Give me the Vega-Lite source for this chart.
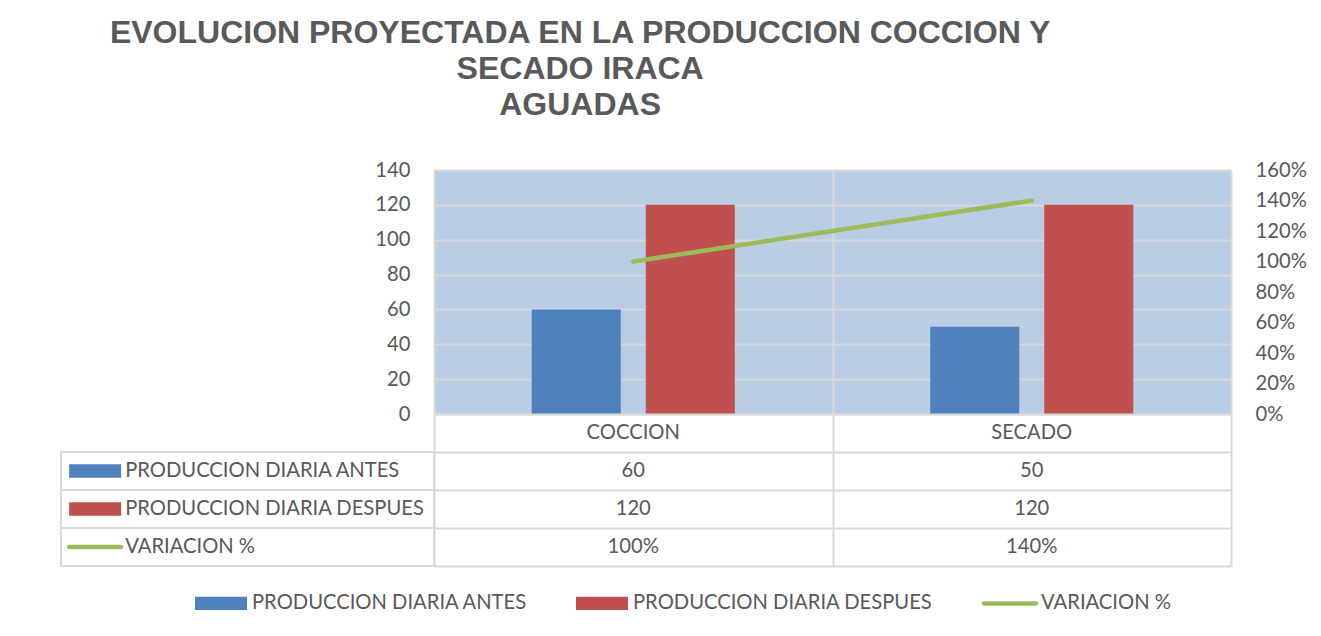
{
  "$schema": "https://vega.github.io/schema/vega-lite/v6.json",
  "padding": {"left": 60, "top": 17, "right": 0, "bottom": 0},
  "background": "white",
  "title": {
    "text": ["EVOLUCION PROYECTADA EN LA PRODUCCION COCCION Y", "SECADO IRACA", "AGUADAS"],
    "font": "Liberation Sans",
    "fontSize": 32,
    "fontWeight": "bold",
    "color": "#595959",
    "anchor": "middle",
    "frame": "bounds",
    "lineHeight": 36,
    "dx": -103,
    "offset": 38
  },
  "datasets": {
    "prod": [
      {"cat": "COCCION", "series": "PRODUCCION DIARIA ANTES", "value": 60},
      {"cat": "COCCION", "series": "PRODUCCION DIARIA DESPUES", "value": 120},
      {"cat": "SECADO", "series": "PRODUCCION DIARIA ANTES", "value": 50},
      {"cat": "SECADO", "series": "PRODUCCION DIARIA DESPUES", "value": 120}
    ],
    "variation": [
      {"cat": "COCCION", "series": "VARIACION %", "variation": 1.0},
      {"cat": "SECADO", "series": "VARIACION %", "variation": 1.4}
    ],
    "seriesList": [
      {"series": "PRODUCCION DIARIA ANTES"},
      {"series": "PRODUCCION DIARIA DESPUES"},
      {"series": "VARIACION %"}
    ]
  },
  "columns": 2,
  "spacing": 0,
  "bounds": "flush",
  "concat": [
    {
      "width": 373,
      "height": 244,
      "data": {"values": [{}]},
      "mark": {"type": "text"},
      "encoding": {"text": {"value": ""}}
    },
    {
      "width": 797,
      "height": 244,
      "view": {"fill": "#B9CDE5", "stroke": null},
      "layer": [
        {
          "data": {"name": "prod"},
          "mark": {"type": "bar"},
          "encoding": {
            "x": {
              "field": "cat", "type": "nominal", "sort": ["COCCION", "SECADO"],
              "scale": {"paddingInner": 0, "paddingOuter": 0},
              "axis": {"title": null, "labels": false, "ticks": false, "domain": false, "grid": true, "tickBand": "extent"}
            },
            "xOffset": {
              "field": "series", "type": "nominal",
              "sort": ["PRODUCCION DIARIA ANTES", "PRODUCCION DIARIA DESPUES"],
              "scale": {"paddingInner": 0.219, "paddingOuter": 0.857}
            },
            "y": {
              "field": "value", "type": "quantitative",
              "scale": {"domain": [0, 140], "nice": false},
              "axis": {"title": null, "orient": "left", "grid": true, "values": [0, 20, 40, 60, 80, 100, 120, 140], "labelPadding": 24}
            },
            "color": {
              "field": "series", "type": "nominal",
              "scale": {"domain": ["PRODUCCION DIARIA ANTES", "PRODUCCION DIARIA DESPUES"], "range": ["#4F81BD", "#C0504D"]},
              "legend": null
            }
          }
        },
        {
          "data": {"name": "variation"},
          "mark": {"type": "line", "color": "#9BBB59", "strokeWidth": 4.5, "strokeCap": "round"},
          "encoding": {
            "x": {"field": "cat", "type": "nominal", "sort": ["COCCION", "SECADO"]},
            "y": {
              "field": "variation", "type": "quantitative",
              "scale": {"domain": [0, 1.6], "nice": false},
              "axis": {"title": null, "orient": "right", "grid": false, "format": ".0%", "values": [0, 0.2, 0.4, 0.6, 0.8, 1.0, 1.2, 1.4, 1.6], "labelPadding": 24}
            }
          }
        }
      ],
      "resolve": {"scale": {"y": "independent"}}
    },
    {
      "width": 373,
      "height": 152,
      "data": {"name": "seriesList"},
      "layer": [
        {
          "mark": {"type": "rect", "fill": "white", "fillOpacity": 0, "stroke": "#D9D9D9", "strokeWidth": 2},
          "encoding": {
            "y": {
              "field": "series", "type": "nominal",
              "scale": {"domain": ["CAT", "PRODUCCION DIARIA ANTES", "PRODUCCION DIARIA DESPUES", "VARIACION %"], "paddingInner": 0, "paddingOuter": 0},
              "axis": null
            }
          }
        },
        {
          "mark": {"type": "point", "filled": true, "size": 2704, "opacity": 1, "strokeWidth": 0},
          "encoding": {
            "x": {"datum": 0.0915, "type": "quantitative", "scale": {"domain": [0, 1]}, "axis": null},
            "y": {"field": "series", "type": "nominal"},
            "fill": {
              "field": "series", "type": "nominal",
              "scale": {
                "domain": ["PRODUCCION DIARIA ANTES", "PRODUCCION DIARIA DESPUES", "VARIACION %"],
                "range": ["#4F81BD", "#C0504D", "#9BBB59"]
              },
              "legend": {
                "orient": "bottom",
                "direction": "horizontal",
                "columns": 3,
                "title": null,
                "labelFont": "Lato",
                "labelFontSize": 20.2,
                "labelColor": "#595959",
                "labelLimit": 600,
                "symbolSize": 2704,
                "symbolStrokeWidth": 0,
                "labelOffset": 5,
                "columnPadding": 48,
                "padding": 0,
                "offset": 10
              }
            },
            "shape": {
              "field": "series", "type": "nominal",
              "scale": {
                "domain": ["PRODUCCION DIARIA ANTES", "PRODUCCION DIARIA DESPUES", "VARIACION %"],
                "range": [
                  "M-1,-0.256L1,-0.256L1,0.256L-1,0.256Z",
                  "M-1,-0.256L1,-0.256L1,0.256L-1,0.256Z",
                  "M-1,-0.0865L1,-0.0865A0.0865,0.0865,0,0,1,1,0.0865L-1,0.0865A0.0865,0.0865,0,0,1,-1,-0.0865Z"
                ]
              }
            }
          }
        },
        {
          "mark": {"type": "text", "align": "left", "baseline": "middle", "font": "Lato", "fontSize": 20.2, "color": "#595959"},
          "encoding": {
            "x": {"datum": 0.172, "type": "quantitative"},
            "y": {"field": "series", "type": "nominal"},
            "text": {"field": "series", "type": "nominal"}
          }
        }
      ]
    },
    {
      "width": 797,
      "height": 152,
      "layer": [
        {
          "data": {"name": "variation"},
          "mark": {"type": "text", "baseline": "middle", "font": "Lato", "fontSize": 20.2, "color": "#595959"},
          "encoding": {
            "x": {
              "field": "cat", "type": "nominal", "sort": ["COCCION", "SECADO"],
              "scale": {"paddingInner": 0, "paddingOuter": 0},
              "axis": {"title": null, "labels": false, "ticks": false, "domain": false, "grid": true, "tickBand": "extent"}
            },
            "y": {
              "datum": "CAT", "type": "nominal",
              "scale": {"domain": ["CAT", "PRODUCCION DIARIA ANTES", "PRODUCCION DIARIA DESPUES", "VARIACION %"], "paddingInner": 0, "paddingOuter": 0},
              "axis": {"title": null, "labels": false, "ticks": false, "domain": false, "grid": true, "tickBand": "extent"}
            },
            "text": {"field": "cat", "type": "nominal"}
          }
        },
        {
          "data": {"name": "prod"},
          "mark": {"type": "text", "baseline": "middle", "font": "Lato", "fontSize": 20.2, "color": "#595959"},
          "encoding": {
            "x": {"field": "cat", "type": "nominal", "sort": ["COCCION", "SECADO"]},
            "y": {"field": "series", "type": "nominal"},
            "text": {"field": "value", "type": "quantitative", "format": "d"}
          }
        },
        {
          "data": {"name": "variation"},
          "mark": {"type": "text", "baseline": "middle", "font": "Lato", "fontSize": 20.2, "color": "#595959"},
          "encoding": {
            "x": {"field": "cat", "type": "nominal", "sort": ["COCCION", "SECADO"]},
            "y": {"field": "series", "type": "nominal"},
            "text": {"field": "variation", "type": "quantitative", "format": ".0%"}
          }
        }
      ]
    }
  ],
  "config": {
    "font": "Lato",
    "view": {"stroke": null},
    "axis": {
      "labelFont": "Lato",
      "labelFontSize": 20.2,
      "labelColor": "#595959",
      "ticks": false,
      "domain": false,
      "gridColor": "#D9D9D9",
      "gridWidth": 2,
      "gridOpacity": 1
    },
    "legend": {
      "layout": {"bottom": {"anchor": "middle"}}
    }
  }
}
